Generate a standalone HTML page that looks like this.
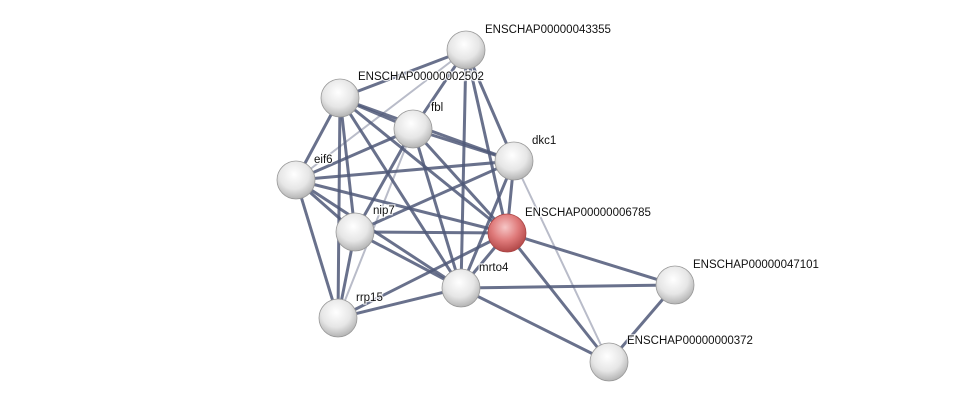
<!DOCTYPE html>
<html><head><meta charset="utf-8"><style>
html,body{margin:0;padding:0;background:#fff;width:975px;height:407px;overflow:hidden}
text{font-family:"Liberation Sans",sans-serif;font-size:11.5px;fill:#111;stroke:#fff;stroke-width:2.5px;paint-order:stroke;stroke-opacity:0.8}
</style></head><body>
<svg width="975" height="407" viewBox="0 0 975 407" xmlns="http://www.w3.org/2000/svg">
<defs>
<radialGradient id="g" cx="0.45" cy="0.35" r="0.65">
<stop offset="0" stop-color="#ffffff"/><stop offset="0.6" stop-color="#e6e6e6"/><stop offset="1" stop-color="#b4b4b4"/>
</radialGradient>
<radialGradient id="r" cx="0.45" cy="0.35" r="0.65">
<stop offset="0" stop-color="#f6c6c6"/><stop offset="0.55" stop-color="#df7a7a"/><stop offset="1" stop-color="#b24848"/>
</radialGradient>
</defs>
<g stroke="#4f5878" stroke-opacity="0.85" stroke-width="3" stroke-linecap="round">
<line x1="466" y1="50" x2="340" y2="98"/>
<line x1="466" y1="50" x2="413" y2="129"/>
<line x1="466" y1="50" x2="514" y2="161"/>
<line x1="466" y1="50" x2="507" y2="233"/>
<line x1="466" y1="50" x2="461" y2="288"/>
<line x1="466" y1="50" x2="296" y2="180" stroke-opacity="0.4" stroke-width="2"/>
<line x1="340" y1="98" x2="413" y2="129"/>
<line x1="340" y1="98" x2="514" y2="161"/>
<line x1="340" y1="98" x2="296" y2="180"/>
<line x1="340" y1="98" x2="355" y2="232"/>
<line x1="340" y1="98" x2="507" y2="233"/>
<line x1="340" y1="98" x2="461" y2="288"/>
<line x1="340" y1="98" x2="338" y2="318"/>
<line x1="413" y1="129" x2="514" y2="161"/>
<line x1="413" y1="129" x2="296" y2="180"/>
<line x1="413" y1="129" x2="355" y2="232"/>
<line x1="413" y1="129" x2="507" y2="233"/>
<line x1="413" y1="129" x2="461" y2="288"/>
<line x1="413" y1="129" x2="338" y2="318" stroke-opacity="0.4" stroke-width="2"/>
<line x1="514" y1="161" x2="296" y2="180"/>
<line x1="514" y1="161" x2="355" y2="232"/>
<line x1="514" y1="161" x2="507" y2="233"/>
<line x1="514" y1="161" x2="461" y2="288"/>
<line x1="514" y1="161" x2="609" y2="362" stroke-opacity="0.4" stroke-width="2"/>
<line x1="296" y1="180" x2="355" y2="232"/>
<line x1="296" y1="180" x2="507" y2="233"/>
<line x1="296" y1="180" x2="461" y2="288"/>
<line x1="296" y1="180" x2="338" y2="318"/>
<line x1="355" y1="232" x2="507" y2="233"/>
<line x1="355" y1="232" x2="461" y2="288"/>
<line x1="355" y1="232" x2="338" y2="318"/>
<line x1="507" y1="233" x2="461" y2="288"/>
<line x1="507" y1="233" x2="338" y2="318"/>
<line x1="507" y1="233" x2="675" y2="285"/>
<line x1="507" y1="233" x2="609" y2="362"/>
<line x1="461" y1="288" x2="338" y2="318"/>
<line x1="461" y1="288" x2="675" y2="285"/>
<line x1="461" y1="288" x2="609" y2="362"/>
<line x1="675" y1="285" x2="609" y2="362"/>
</g>
<g stroke="#999" stroke-width="0.8">
<circle cx="466" cy="50" r="19" fill="url(#g)"/>
<circle cx="340" cy="98" r="19" fill="url(#g)"/>
<circle cx="413" cy="129" r="19" fill="url(#g)"/>
<circle cx="514" cy="161" r="19" fill="url(#g)"/>
<circle cx="296" cy="180" r="19" fill="url(#g)"/>
<circle cx="355" cy="232" r="19" fill="url(#g)"/>
<circle cx="507" cy="233" r="19" fill="url(#r)" stroke="#a44"/>
<circle cx="461" cy="288" r="19" fill="url(#g)"/>
<circle cx="338" cy="318" r="19" fill="url(#g)"/>
<circle cx="675" cy="285" r="19" fill="url(#g)"/>
<circle cx="609" cy="362" r="19" fill="url(#g)"/>
</g>
<text x="485" y="33">ENSCHAP00000043355</text>
<text x="358" y="80">ENSCHAP00000002502</text>
<text x="431" y="111">fbl</text>
<text x="532" y="144">dkc1</text>
<text x="314" y="163">eif6</text>
<text x="373" y="214">nip7</text>
<text x="525" y="216">ENSCHAP00000006785</text>
<text x="479" y="271">mrto4</text>
<text x="356" y="301">rrp15</text>
<text x="693" y="268">ENSCHAP00000047101</text>
<text x="627" y="344">ENSCHAP00000000372</text>
</svg>
</body></html>
